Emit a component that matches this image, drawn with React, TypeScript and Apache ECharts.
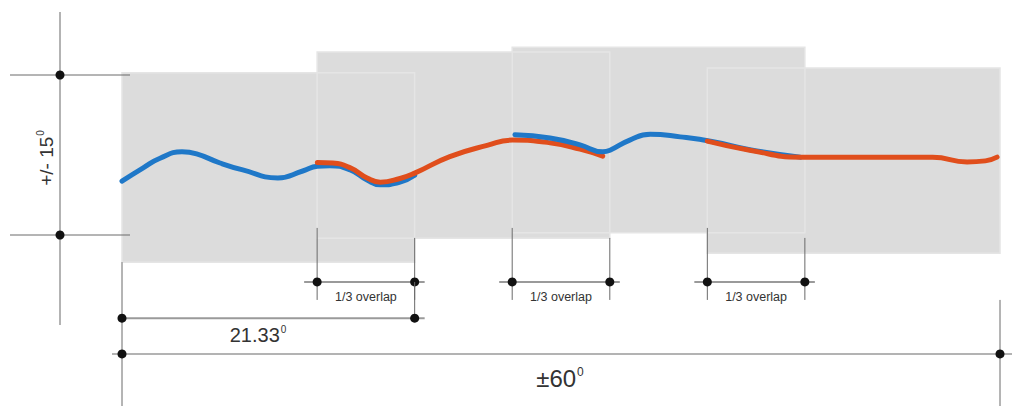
import React, { useEffect, useRef } from "react";
import * as echarts from "echarts";

// Camera frames (degrees): horizontal start, width, vertical top/bottom
const frameStarts = [-60, -33.33, -6.67, 20];
const frameWidth = 40;
const frameTops = [15.4, 19.3, 20.2, 16.3];
const frameBottoms = [-20.1, -15.6, -14.6, -18.4];

// Horizon traces per frame (degrees)
const curve1X = [-60, -57.1, -54.8, -51.8, -49.8, -46.6, -43.5, -38.7, -35.3, -33.3, -31.6, -28.8, -26.5, -24.7, -22, -20];
const curve1Y = [-4.9, -2.4, -0.6, 0.6, 0.2, -1.5, -2.8, -4.3, -3.0, -2.1, -2.0, -2.8, -4.7, -5.6, -5.1, -3.8];
const curve2X = [-33.3, -31.2, -28.8, -26.5, -24.7, -22, -20, -15.2, -10.1, -6.6, -1.5, 2.6, 5.7];
const curve2Y = [-1.4, -1.5, -2.4, -4.3, -5.1, -4.4, -3.4, -0.3, 1.8, 2.8, 2.3, 1.1, -0.2];
const curve3X = [-6.3, -1.5, 2.6, 5.7, 6.7, 9.4, 12.2, 16.3, 20.8, 25.8, 32.7];
const curve3Y = [3.8, 3.2, 1.9, 0.6, 0.9, 2.8, 3.9, 3.4, 2.5, 1.0, -0.4];
const curve4X = [20, 25.8, 32.7, 39.5, 46.3, 50.8, 55.5, 58, 59.6];
const curve4Y = [2.6, 0.9, -0.4, -0.4, -0.4, -0.4, -1.3, -1.1, -0.4];
const curveColors = ["#1f78c8", "#e04e1c", "#1f78c8", "#e04e1c"];

// Dimension annotation levels (degrees) and labels
const overlapLevel = -23.8;
const singleLevel = -30.6;
const totalLevel = -37.3;
const singleLabel = "21.33";
const totalLabel = "\u00b160";
const overlapLabel = "1/3 overlap";
const heightLabel = "+/- 15";
const degreeMark = "0";

const FONT = "'Liberation Sans', Arial, sans-serif";
const LINE = "#6a6a6a";
const DIM = "#9a9a9a";
const DOT = "#111111";
const TEXT = "#333333";

export default function App() {
  const ref = useRef<HTMLDivElement>(null);
  useEffect(() => {
    const chart = echarts.init(ref.current!, null, { renderer: "svg" });
    const pairs = (xs: number[], ys: number[]) => xs.map((x, i) => [x, ys[i]]);
    const curves = [
      pairs(curve1X, curve1Y),
      pairs(curve2X, curve2Y),
      pairs(curve3X, curve3Y),
      pairs(curve4X, curve4Y),
    ];
    const dot = (x: number, y: number) => ({
      type: "circle",
      shape: { cx: x, cy: y, r: 4.5 },
      style: { fill: DOT },
    });
    const seg = (x1: number, y1: number, x2: number, y2: number, stroke: string, w: number) => ({
      type: "line",
      shape: { x1, y1, x2, y2 },
      style: { stroke, lineWidth: w },
    });
    const supText = (main: string, size: number, x: number, y: number, extra: any = {}) => ({
      type: "text",
      x,
      y,
      ...extra,
      style: {
        text: `{m|${main}}{s|${degreeMark}}`,
        align: "center",
        verticalAlign: "middle",
        fill: TEXT,
        fontFamily: FONT,
        fontSize: size,
        rich: {
          m: { fontSize: size, fontFamily: FONT, fill: TEXT, lineHeight: size + 2 },
          s: { fontSize: Math.round(size * 0.5), fontFamily: FONT, fill: TEXT, verticalAlign: "top", padding: [0, 0, 0, 1] },
        },
      },
    });

    const frameData = frameStarts.map((s, i) => [s, s + frameWidth, frameTops[i], frameBottoms[i]]);
    const overlaps = frameStarts.slice(1).map((s, i) => [s, frameStarts[i] + frameWidth]);

    const frameRender = (fill: string, stroke: string) => (params: any, api: any) => {
      const p1 = api.coord([api.value(0), api.value(2)]);
      const p2 = api.coord([api.value(1), api.value(3)]);
      return {
        type: "rect",
        shape: { x: p1[0], y: p1[1], width: p2[0] - p1[0], height: p2[1] - p1[1] },
        style: { fill, stroke, lineWidth: 1.5 },
      };
    };

    const option: any = {
      animation: false,
      backgroundColor: "#ffffff",
      grid: { left: 122, right: 20, top: 75, bottom: 171 },
      xAxis: { type: "value", min: -60, max: 60, show: false },
      yAxis: { type: "value", min: -15, max: 15, show: false },
      series: [
        {
          type: "custom",
          clip: false,
          silent: true,
          z: 1,
          data: frameData,
          renderItem: frameRender("#dcdcdc", "none"),
        },
        {
          type: "custom",
          clip: false,
          silent: true,
          z: 2,
          data: frameData,
          renderItem: frameRender("none", "#e5e5e5"),
        },
        ...curves.map((d, i) => ({
          type: "line",
          data: d,
          smooth: 0.5,
          showSymbol: false,
          silent: true,
          z: 3 + i,
          lineStyle: { color: curveColors[i], width: 5, cap: "round" },
          itemStyle: { color: curveColors[i] },
        })),
        {
          type: "custom",
          clip: false,
          silent: true,
          z: 10,
          data: overlaps,
          renderItem: (params: any, api: any) => {
            const a = api.coord([api.value(0), overlapLevel]);
            const b = api.coord([api.value(1), overlapLevel]);
            const y = a[1];
            return {
              type: "group",
              children: [
                seg(a[0], y - 54, a[0], y + 18, LINE, 1),
                seg(b[0], y - 44, b[0], y + 18, LINE, 1),
                seg(a[0] - 13, y, b[0] + 10, y, DIM, 2),
                dot(a[0], y),
                dot(b[0], y),
                {
                  type: "text",
                  x: (a[0] + b[0]) / 2,
                  y: y + 15,
                  style: {
                    text: overlapLabel,
                    align: "center",
                    verticalAlign: "middle",
                    fill: TEXT,
                    fontFamily: FONT,
                    fontSize: 12.5,
                  },
                },
              ],
            };
          },
        },
        {
          type: "custom",
          clip: false,
          silent: true,
          z: 11,
          data: [[0, 0]],
          renderItem: (params: any, api: any) => {
            const top = api.coord([-60, 15]);
            const bottom = api.coord([-60, -15]);
            const xL = top[0];
            const xR = api.coord([60, 0])[0];
            const xS = api.coord([frameStarts[0] + frameWidth, 0])[0];
            const yO = api.coord([0, overlapLevel])[1];
            const yS = api.coord([0, singleLevel])[1];
            const yT = api.coord([0, totalLevel])[1];
            const yF = api.coord([0, frameBottoms[0]])[1];
            const H = api.getHeight();
            const axX = xL - 62;
            return {
              type: "group",
              children: [
                // vertical height dimension
                seg(axX, 12, axX, 325, DIM, 1.5),
                seg(10, top[1], xL + 8, top[1], LINE, 1),
                seg(10, bottom[1], xL + 8, bottom[1], LINE, 1),
                dot(axX, top[1]),
                dot(axX, bottom[1]),
                supText(heightLabel, 19, axX - 14, (top[1] + bottom[1]) / 2 + 3, { rotation: Math.PI / 2 }),
                // single frame width
                seg(xL, yF, xL, H, LINE, 1),
                seg(xS, yO, xS, yS, LINE, 1),
                seg(xL - 4, yS, xS + 10, yS, DIM, 2),
                dot(xL, yS),
                dot(xS, yS),
                supText(singleLabel, 20, xL + 136, yS + 17),
                // total field of view
                seg(xR, yT - 54, xR, H, LINE, 1),
                seg(xL - 10, yT, xR + 12, yT, DIM, 1.5),
                dot(xL, yT),
                dot(xR, yT),
                supText(totalLabel, 24, xL + 438, yT + 25),
              ],
            };
          },
        },
      ],
    };
    chart.setOption(option);
    return () => chart.dispose();
  }, []);
  return <div ref={ref} style={{ position: "fixed", left: 0, top: 0, width: 1020, height: 406 }} />;
}
